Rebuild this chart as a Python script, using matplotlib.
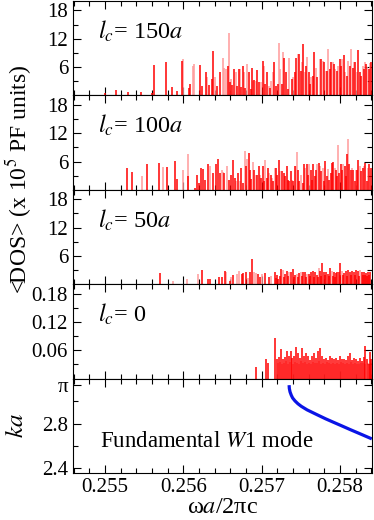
import numpy as np
import matplotlib
matplotlib.use('Agg')
from matplotlib import pyplot as plt
from matplotlib.ticker import FixedLocator

plt.rcParams['font.family'] = ['Liberation Serif', 'DejaVu Serif']
plt.rcParams['mathtext.fontset'] = 'stix'

# ---- l_c = 150a ----
freq_150 = [
    0.255004, 0.255140, 0.255298, 0.255455, 0.255604, 0.255630, 0.255783, 0.255860, 0.255915, 0.255979,
    0.256068, 0.256090, 0.256213, 0.256239, 0.256286, 0.256332, 0.256362, 0.256383, 0.256426, 0.256469,
    0.256571, 0.256596, 0.256622, 0.256652, 0.256690, 0.256707, 0.256741, 0.256762, 0.256792, 0.256835,
    0.256860, 0.256877, 0.256907, 0.256945, 0.256962, 0.257013, 0.257047, 0.257073, 0.257107, 0.257162,
    0.257184, 0.257205, 0.257260, 0.257290, 0.257311, 0.257333, 0.257388, 0.257422, 0.257443, 0.257482,
    0.257499, 0.257533, 0.257567, 0.257601, 0.257618, 0.257652, 0.257673, 0.257712, 0.257763, 0.257797,
    0.257835, 0.257869, 0.257890, 0.257924, 0.257963, 0.257997, 0.258014, 0.258048, 0.258086, 0.258124,
    0.258163, 0.258197, 0.258235, 0.258252, 0.258273, 0.258303, 0.258333, 0.258371, 0.258401,
]
dos_150 = [
    0.5, 1.1, 0.8, 0.7, 0.5, 6.4, 7.0, 1.8, 0.9, 7.2,
    1.5, 2.5, 6.5, 2.0, 5.0, 2.3, 3.5, 9.4, 2.0, 5.0,
    6.3, 2.9, 2.2, 5.7, 1.9, 5.6, 1.7, 6.3, 1.5, 4.9,
    1.4, 5.9, 3.3, 5.4, 2.8, 7.3, 2.4, 5.0, 1.5, 7.0,
    2.1, 2.4, 2.4, 8.0, 4.9, 1.4, 3.5, 4.9, 8.0, 8.7,
    5.2, 10.8, 6.3, 4.9, 2.4, 4.2, 9.1, 3.8, 7.7, 7.0,
    5.2, 5.6, 7.0, 6.6, 5.2, 7.7, 6.3, 8.5, 4.2, 6.3,
    5.9, 7.1, 9.6, 4.9, 4.2, 5.6, 6.6, 5.6, 7.0,
]
freq_150_faint = [
    0.255992, 0.256120, 0.256137, 0.256303, 0.256405, 0.256503, 0.256515, 0.256545, 0.256583, 0.256613,
    0.256669, 0.256724, 0.256775, 0.256818, 0.256890, 0.256924, 0.256988, 0.257030, 0.257094, 0.257124,
    0.257150, 0.257218, 0.257235, 0.257273, 0.257350, 0.257405, 0.257465, 0.257516, 0.257550, 0.257584,
    0.257635, 0.257694, 0.257746, 0.257780, 0.257818, 0.257852, 0.257907, 0.257941, 0.257980, 0.258031,
    0.258065, 0.258103, 0.258141, 0.258180, 0.258218, 0.258290, 0.258316, 0.258350, 0.258388,
]
dos_150_faint = [
    7.8, 6.3, 6.6, 4.0, 4.0, 8.0, 5.9, 5.6, 13.3, 3.5,
    5.0, 5.6, 4.9, 6.6, 3.1, 3.1, 2.8, 6.3, 2.1, 3.1,
    4.9, 11.1, 5.6, 9.1, 8.0, 3.8, 8.7, 7.0, 4.9, 8.2,
    3.8, 5.9, 7.7, 7.3, 5.2, 9.9, 7.0, 5.6, 6.3, 7.7,
    4.9, 7.3, 9.9, 7.0, 4.9, 6.3, 7.0, 6.1, 6.9,
]

# ---- l_c = 100a ----
freq_100 = [
    0.255285, 0.255349, 0.255536, 0.255685, 0.255796, 0.255894, 0.255923, 0.256064, 0.256149, 0.256179,
    0.256200, 0.256230, 0.256251, 0.256273, 0.256319, 0.256379, 0.256413, 0.256443, 0.256464,
    0.256520, 0.256588, 0.256613, 0.256639, 0.256656, 0.256698, 0.256741, 0.256758, 0.256801, 0.256835,
    0.256852, 0.256869, 0.256903, 0.256945, 0.256962, 0.256996, 0.257013, 0.257030, 0.257064, 0.257081,
    0.257116, 0.257150, 0.257179, 0.257201, 0.257226, 0.257260, 0.257282, 0.257303, 0.257320, 0.257337,
    0.257354, 0.257371, 0.257405, 0.257422, 0.257465, 0.257482, 0.257524, 0.257541, 0.257580, 0.257592,
    0.257626, 0.257643, 0.257660, 0.257677, 0.257694, 0.257729, 0.257763, 0.257797, 0.257814, 0.257831,
    0.257865, 0.257882, 0.257899, 0.257916, 0.257950, 0.257967, 0.257992, 0.258009, 0.258026, 0.258061,
    0.258078, 0.258095, 0.258120, 0.258137, 0.258171, 0.258188, 0.258222, 0.258235, 0.258273, 0.258290,
    0.258324, 0.258341, 0.258375, 0.258392,
]
dos_100 = [
    4.6, 3.7, 5.5, 5.7, 4.9, 6.1, 2.3, 2.9, 0.4, 3.2,
    1.4, 4.6, 4.4, 2.1, 5.4, 3.6, 5.4, 6.6, 3.6,
    3.6, 2.1, 3.2, 6.4, 2.5, 3.6, 4.6, 1.4, 5.0, 7.9,
    4.3, 2.3, 4.3, 3.2, 5.1, 2.5, 5.0, 1.8, 2.5, 4.6,
    3.2, 1.8, 4.6, 3.2, 6.3, 3.9, 3.6, 2.9, 5.0, 2.1,
    1.8, 3.9, 1.8, 5.1, 4.3, 1.8, 1.4, 5.5, 5.5, 3.2,
    4.1, 2.1, 5.4, 2.9, 4.3, 5.7, 3.9, 1.8, 6.1, 2.9,
    2.1, 3.6, 5.7, 5.9, 4.3, 2.9, 3.6, 5.5, 4.3, 5.1,
    2.9, 7.5, 5.4, 4.3, 4.3, 1.8, 4.3, 6.4, 3.9, 4.6,
    5.7, 1.8, 5.4, 4.6,
]
freq_100_faint = [
    0.255476, 0.255740, 0.255996, 0.256055, 0.256345, 0.256490, 0.256503, 0.256562, 0.256677, 0.256724,
    0.256783, 0.256818, 0.256886, 0.256928, 0.256979, 0.257047, 0.257099, 0.257133, 0.257167, 0.257239,
    0.257388, 0.257439, 0.257456, 0.257507, 0.257558, 0.257609, 0.257712, 0.257746, 0.257780, 0.257848,
    0.257933, 0.257980, 0.258043, 0.258107, 0.258154, 0.258205, 0.258252, 0.258307, 0.258358,
]
dos_100_faint = [
    2.9, 4.8, 4.3, 7.5, 5.0, 4.3, 3.7, 5.1, 1.8, 1.8,
    8.2, 6.6, 5.9, 3.2, 3.2, 6.4, 3.6, 2.5, 4.6, 3.9,
    2.1, 5.0, 8.0, 3.2, 4.6, 5.4, 5.5, 5.0, 4.6, 4.4,
    4.6, 9.6, 5.4, 10.7, 4.6, 4.3, 5.0, 5.0, 4.6,
]

# ---- l_c = 50a ----
freq_50 = [
    0.255703, 0.256243, 0.256320, 0.256346, 0.256456, 0.256499, 0.256529, 0.256597, 0.256631, 0.256746,
    0.256767, 0.256797, 0.256852, 0.256882, 0.256954, 0.256980, 0.257044, 0.257099, 0.257171, 0.257197,
    0.257214, 0.257252, 0.257295, 0.257320, 0.257371, 0.257397, 0.257423, 0.257474, 0.257525, 0.257550,
    0.257601, 0.257627, 0.257652, 0.257678, 0.257704, 0.257746, 0.257772, 0.257797, 0.257823, 0.257848,
    0.257874, 0.257925, 0.257950, 0.257967, 0.257984, 0.258006, 0.258053, 0.258078, 0.258104, 0.258129,
    0.258155, 0.258180, 0.258206, 0.258231, 0.258282, 0.258308, 0.258334, 0.258359, 0.258385,
    0.257185, 0.257240, 0.257285, 0.257333, 0.257410, 0.257462, 0.257512, 0.257563, 0.257614, 0.257665,
    0.257716, 0.257759, 0.257810, 0.257861, 0.257912, 0.257938, 0.257995, 0.258040, 0.258091, 0.258142,
    0.258193, 0.258244, 0.258295, 0.258321, 0.258346, 0.258372,
]
dos_50 = [
    2.3, 3.0, 1.0, 1.0, 1.6, 1.6, 2.8, 0.6, 1.9, 2.1,
    2.3, 2.6, 2.5, 5.4, 2.1, 1.6, 2.3, 1.6, 2.5, 1.9,
    1.2, 3.2, 2.1, 2.8, 2.6, 3.2, 1.9, 2.3, 2.5, 2.5,
    2.1, 2.6, 2.8, 2.5, 1.9, 2.8, 4.4, 2.6, 2.5, 2.1,
    3.4, 2.5, 2.3, 2.5, 2.5, 4.4, 2.3, 2.8, 3.0, 2.5,
    2.8, 2.6, 3.0, 2.8, 2.6, 2.5, 2.3, 2.6, 2.5,
    1.4, 1.8, 1.5, 1.7, 1.5, 1.6, 1.8, 1.6, 1.7, 1.5,
    1.6, 1.8, 1.9, 1.7, 1.8, 1.6, 1.9, 2.0, 1.8, 1.9,
    2.0, 1.8, 1.9, 2.0, 1.8, 1.9,
]
freq_50_faint = [
    0.255873, 0.256052, 0.256192, 0.256541, 0.256614, 0.256690, 0.256707, 0.256822, 0.256899, 0.256929,
    0.257005, 0.257116, 0.257269, 0.257346, 0.257448, 0.257499, 0.257576, 0.257729, 0.257899, 0.258027,
    0.258257,
]
dos_50_faint = [
    0.6, 1.0, 2.1, 2.5, 1.6, 2.1, 2.8, 1.4, 2.5, 2.3,
    2.1, 1.8, 3.0, 2.5, 2.1, 2.6, 2.1, 3.4, 2.8, 2.8,
    3.0,
]

# ---- l_c = 0 ----
freq_0 = [
    0.256928, 0.257056, 0.257077, 0.257175, 0.257192, 0.257218, 0.257243, 0.257269, 0.257294, 0.257320,
    0.257346, 0.257371, 0.257388, 0.257414, 0.257439, 0.257465, 0.257490, 0.257516, 0.257541, 0.257567,
    0.257592, 0.257618, 0.257644, 0.257669, 0.257695, 0.257720, 0.257746, 0.257771, 0.257797, 0.257822,
    0.257848, 0.257873, 0.257899, 0.257925, 0.257950, 0.257976, 0.258001, 0.258027, 0.258052, 0.258078,
    0.258103, 0.258129, 0.258154, 0.258180, 0.258205, 0.258231, 0.258257, 0.258282, 0.258308, 0.258325,
    0.258342, 0.258367, 0.258384, 0.258401,
]
dos_0 = [
    0.024, 0.042, 0.034, 0.085, 0.041, 0.045, 0.062, 0.041, 0.045, 0.059,
    0.048, 0.059, 0.043, 0.047, 0.068, 0.054, 0.043, 0.064, 0.048, 0.055,
    0.047, 0.040, 0.047, 0.054, 0.043, 0.059, 0.064, 0.047, 0.041, 0.043,
    0.040, 0.047, 0.043, 0.041, 0.043, 0.040, 0.047, 0.041, 0.041, 0.040,
    0.047, 0.054, 0.040, 0.043, 0.041, 0.038, 0.043, 0.038, 0.045, 0.070,
    0.041, 0.030, 0.056, 0.041,
]
freq_0_faint = [
    0.257205, 0.257231, 0.257256, 0.257282, 0.257307, 0.257333, 0.257359, 0.257401, 0.257427, 0.257452,
    0.257478, 0.257503, 0.257529, 0.257554, 0.257580, 0.257605, 0.257631, 0.257656, 0.257682, 0.257708,
    0.257733, 0.257759, 0.257784, 0.257810, 0.257835, 0.257861, 0.257886, 0.257912, 0.257937, 0.257963,
    0.257988, 0.258014, 0.258040, 0.258065, 0.258091, 0.258116, 0.258141, 0.258167, 0.258192, 0.258218,
    0.258244, 0.258269, 0.258295, 0.258320, 0.258354, 0.258375, 0.258392,
]
dos_0_faint = [
    0.032, 0.036, 0.030, 0.034, 0.038, 0.031, 0.035, 0.030, 0.036, 0.033,
    0.030, 0.037, 0.032, 0.035, 0.030, 0.034, 0.031, 0.036, 0.032, 0.034,
    0.038, 0.031, 0.033, 0.030, 0.035, 0.032, 0.030, 0.034, 0.031, 0.033,
    0.030, 0.036, 0.032, 0.030, 0.034, 0.031, 0.036, 0.030, 0.033, 0.031,
    0.030, 0.034, 0.032, 0.030, 0.033, 0.031, 0.034,
]

# ---- W1 band ----
w1_freq = [0.257350, 0.257353, 0.257362, 0.257378, 0.257395, 0.257425, 0.257462, 0.257505,
           0.257580, 0.257704, 0.257818, 0.257916, 0.258015, 0.258129, 0.258280, 0.258406]
w1_ka = [3.1416, 3.1116, 3.0816, 3.0516, 3.0276, 3.0016, 2.9766, 2.9536,
         2.9216, 2.8796, 2.8416, 2.8116, 2.7816, 2.7466, 2.7016, 2.6636]

panels = [
    (freq_150, dos_150, freq_150_faint, dos_150_faint, r'$l_c$= 150$a$'),
    (freq_100, dos_100, freq_100_faint, dos_100_faint, r'$l_c$= 100$a$'),
    (freq_50, dos_50, freq_50_faint, dos_50_faint, r'$l_c$= 50$a$'),
    (freq_0, dos_0, freq_0_faint, dos_0_faint, r'$l_c$= 0'),
]

fig, axes = plt.subplots(5, 1, sharex=True, figsize=(3.74, 5.2), dpi=100)
fig.subplots_adjust(left=0.195, right=0.995, top=0.998, bottom=0.0904, hspace=0)

for i, (f, d, ff, df, label) in enumerate(panels):
    ax = axes[i]
    ax.vlines(ff, 0, df, color='#ff9a9a', lw=1.1)
    ax.vlines(f, 0, d, color='#ff0000', lw=1.1)
    if i < 3:
        ax.set_ylim(0, 20)
        ax.yaxis.set_major_locator(FixedLocator([6, 12, 18]))
        ax.yaxis.set_minor_locator(FixedLocator([3, 9, 15]))
    else:
        ax.set_ylim(0, 0.2)
        ax.yaxis.set_major_locator(FixedLocator([0.06, 0.12, 0.18]))
        ax.yaxis.set_minor_locator(FixedLocator([0.03, 0.09, 0.15]))
    ax.text(0.085, 0.6, label, transform=ax.transAxes, fontsize=17.5)

ax5 = axes[4]
ax5.plot(w1_freq, w1_ka, color='#0a14e6', lw=2.3, solid_capstyle='butt')
ax5.set_ylim(2.36, 3.2)
ax5.yaxis.set_major_locator(FixedLocator([2.4, 2.8, np.pi]))
ax5.yaxis.set_minor_locator(FixedLocator([2.6, 3.0]))
ax5.set_yticklabels(['2.4', '2.8', 'π'])
ax5.set_ylabel('$ka$', fontsize=18)
ax5.yaxis.set_label_coords(-0.15, 0.5)
ax5.text(0.09, 0.28, 'Fundamental $W$1 mode', transform=ax5.transAxes, fontsize=16.5)

ax5.set_xlim(0.25459, 0.25841)
ax5.xaxis.set_major_locator(FixedLocator([0.255, 0.256, 0.257, 0.258]))
ax5.xaxis.set_minor_locator(FixedLocator([0.2546, 0.2548, 0.2552, 0.2554, 0.2556, 0.2558,
                                          0.2562, 0.2564, 0.2566, 0.2568, 0.2572, 0.2574,
                                          0.2576, 0.2578, 0.2582, 0.2584]))
ax5.set_xticklabels(['0.255', '0.256', '0.257', '0.258'])
ax5.set_xlabel('ω$a$/2πc', fontsize=17.5, labelpad=0)

for ax in axes:
    ax.tick_params(which='both', direction='in', top=True, right=True, labelsize=15, width=0.8)
    ax.tick_params(which='major', length=6)
    ax.tick_params(which='minor', length=3.5)
    for s in ax.spines.values():
        s.set_linewidth(0.8)

fig.text(0.05, 0.655, '<DOS> (x 10$^5$ PF units)', rotation=90, ha='center', va='center', fontsize=17)

fig.savefig('out.png', dpi=100)
